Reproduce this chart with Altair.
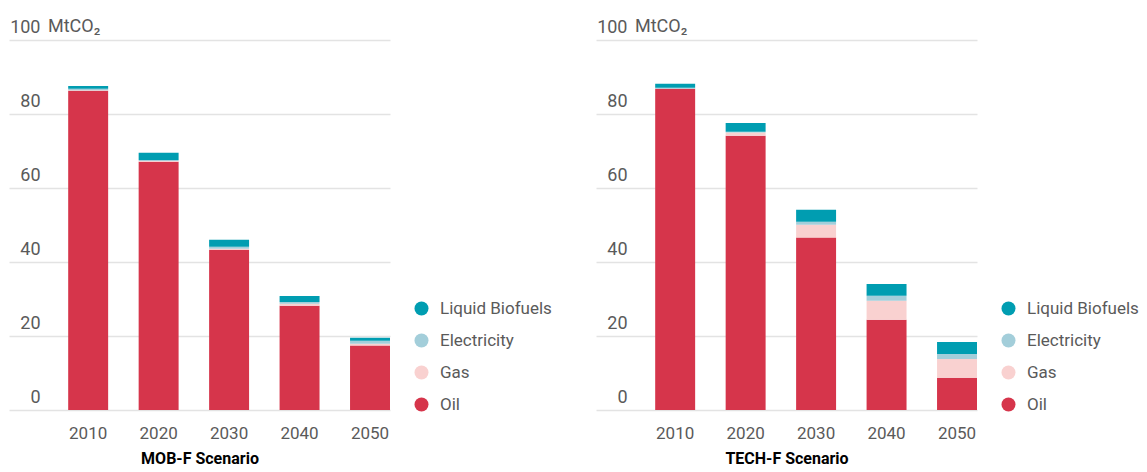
import altair as alt
import pandas as pd

years = ["2010", "2020", "2030", "2040", "2050"]
fuels = ["Liquid Biofuels", "Electricity", "Gas", "Oil"]
colors = ["#009db1", "#a3ceda", "#f9d1d0", "#d6354b"]

# MOB-F Scenario (MtCO2)
mob_oil = [86.3, 67.1, 43.3, 28.2, 17.4]
mob_gas = [0.1, 0.2, 0.3, 0.5, 0.5]
mob_elec = [0.4, 0.3, 0.5, 0.5, 0.8]
mob_bio = [0.8, 1.9, 1.9, 1.6, 0.8]

# TECH-F Scenario (MtCO2)
tech_oil = [86.8, 74.1, 46.6, 24.4, 8.7]
tech_gas = [0.0, 0.9, 3.5, 5.1, 5.1]
tech_elec = [0.3, 0.2, 0.8, 1.35, 1.35]
tech_bio = [1.1, 2.4, 3.2, 3.2, 3.2]

y_ticks = [0, 20, 40, 60, 80, 100]
unit_label = "MtCO₂"

FONT = "Roboto, sans-serif"
GREY = "#5a5a5a"


def make_df(oil, gas, elec, bio):
    rows = []
    for i, yr in enumerate(years):
        for f, v, o in [("Oil", oil[i], 0), ("Gas", gas[i], 1),
                        ("Electricity", elec[i], 2), ("Liquid Biofuels", bio[i], 3)]:
            rows.append({"year": yr, "fuel": f, "value": v, "order": o})
    return pd.DataFrame(rows)


def panel(df, title):
    bars = alt.Chart(df).mark_bar().encode(
        x=alt.X("year:N", sort=years, title=title,
                scale=alt.Scale(paddingInner=0.433, paddingOuter=0.42, align=1),
                axis=alt.Axis(labelAngle=0, labelFontSize=17, labelColor=GREY,
                              labelPadding=15, domain=False, ticks=False,
                              titleFontSize=16, titleFontWeight="bold",
                              titleColor="#000000", titlePadding=9)),
        y=alt.Y("value:Q", stack="zero", scale=alt.Scale(domain=[0, 100]),
                axis=alt.Axis(values=y_ticks, title=None, grid=True,
                              gridColor="#e3e3e3", gridWidth=1.5, domain=False,
                              ticks=False, tickSize=0, labelAlign="right",
                              labelBaseline="alphabetic", labelPadding=-31,
                              labelOffset=-8, labelFontSize=18, labelColor=GREY)),
        color=alt.Color("fuel:N", scale=alt.Scale(domain=fuels, range=colors),
                        legend=alt.Legend(title=None, orient="none", legendX=404,
                                          legendY=260, symbolType="circle",
                                          symbolSize=196, labelFontSize=17,
                                          labelColor=GREY, rowPadding=14,
                                          labelOffset=10, symbolStrokeWidth=0)),
        order=alt.Order("order:Q", sort="ascending"),
    )
    unit = alt.Chart(pd.DataFrame({"t": [unit_label], "v": [100]})).mark_text(
        align="left", baseline="alphabetic", dy=-8, fontSize=18, color=GREY, font=FONT
    ).encode(x=alt.value(39), y=alt.Y("v:Q"), text="t:N")
    return alt.layer(bars, unit).properties(width=381, height=370)


left = panel(make_df(mob_oil, mob_gas, mob_elec, mob_bio), "MOB-F Scenario")
right = panel(make_df(tech_oil, tech_gas, tech_elec, tech_bio), "TECH-F Scenario")

chart = alt.hconcat(left, right, spacing=44).resolve_scale(color="independent").properties(
    padding={"left": 1, "top": 10, "right": 0, "bottom": 0}
).configure(font=FONT).configure_view(stroke=None)

chart.save("out.html", embed_options={"renderer": "svg", "actions": False})
